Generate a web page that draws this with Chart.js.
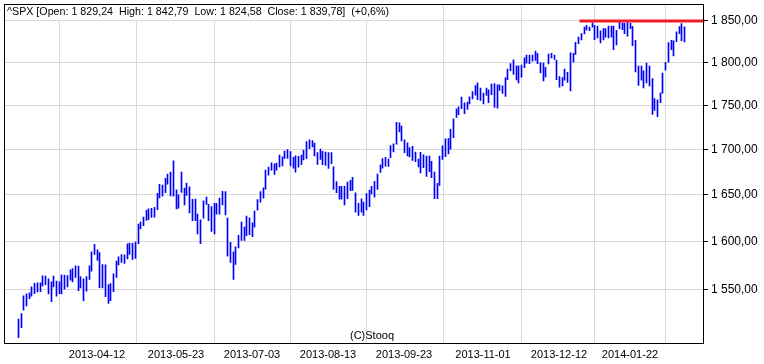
<!DOCTYPE html>
<html>
<head>
<meta charset="utf-8">
<script src="https://cdn.jsdelivr.net/npm/chart.js@4.4.0/dist/chart.umd.min.js"></script>
<style>
  html, body { margin: 0; padding: 0; background: #ffffff; }
  #grafico-wrap { width: 764px; height: 364px; }
</style>
</head>
<body>
<div id="grafico-wrap"><canvas id="grafico" width="764" height="364"></canvas></div>
<script>
// dados (^SPX diário, 2013-03-01 .. 2014-02-20, um valor por sessão)
const highs = [
  1520.0, 1525.6, 1543.4, 1545.5, 1546.5, 1552.6, 1556.4, 1556.8, 1556.8, 1564.0,
  1563.7, 1560.9, 1557.8, 1563.7, 1558.5, 1557.8, 1565.1, 1564.7, 1564.3, 1570.2,
  1571.6, 1574.4, 1574.1, 1563.3, 1560.9, 1563.3, 1574.4, 1588.9, 1596.9, 1591.0,
  1588.2, 1575.7, 1575.4, 1555.0, 1556.0, 1566.0, 1579.3, 1583.7, 1586.1, 1585.8,
  1597.2, 1598.2, 1597.9, 1599.3, 1618.3, 1620.4, 1625.7, 1633.1, 1634.5, 1635.2,
  1636.3, 1651.4, 1661.2, 1660.4, 1667.9, 1672.4, 1674.6, 1687.2, 1655.2, 1649.7,
  1674.6, 1657.0, 1662.6, 1658.6, 1644.8, 1645.1, 1628.9, 1622.9, 1643.3, 1647.2,
  1639.4, 1637.0, 1640.5, 1640.5, 1646.1, 1653.6, 1653.3, 1624.6, 1599.0, 1588.9,
  1594.1, 1606.3, 1620.4, 1615.0, 1626.7, 1625.0, 1619.7, 1632.3, 1644.7, 1653.3,
  1657.5, 1676.8, 1680.2, 1685.0, 1683.9, 1684.7, 1693.6, 1691.7, 1698.1, 1699.6,
  1697.3, 1691.0, 1692.8, 1692.1, 1693.6, 1699.2, 1708.7, 1710.6, 1709.8, 1706.9,
  1696.2, 1700.3, 1697.8, 1697.0, 1696.2, 1696.2, 1680.5, 1664.2, 1658.9, 1658.9,
  1658.9, 1663.8, 1665.6, 1669.0, 1651.9, 1640.5, 1645.5, 1641.9, 1651.1, 1654.8,
  1658.9, 1664.5, 1672.4, 1682.8, 1689.5, 1691.0, 1689.1, 1704.1, 1706.0, 1730.4,
  1730.0, 1726.2, 1710.6, 1707.2, 1701.8, 1703.4, 1697.0, 1689.1, 1696.6, 1693.9,
  1692.5, 1692.5, 1686.6, 1674.6, 1662.3, 1692.5, 1703.8, 1711.8, 1712.1, 1722.4,
  1734.6, 1746.0, 1748.3, 1759.5, 1752.9, 1753.7, 1759.9, 1766.0, 1772.9, 1776.0,
  1769.9, 1764.1, 1769.9, 1768.0, 1774.5, 1775.2, 1773.7, 1773.7, 1772.6, 1782.2,
  1792.2, 1798.8, 1803.1, 1796.1, 1796.1, 1796.9, 1805.5, 1808.8, 1808.8, 1808.8,
  1813.7, 1810.9, 1800.0, 1799.5, 1794.2, 1810.1, 1810.9, 1808.8, 1802.8, 1783.5,
  1782.2, 1792.2, 1788.4, 1811.6, 1810.9, 1824.2, 1830.6, 1834.6, 1842.7, 1844.8,
  1842.7, 1847.6, 1844.8, 1843.9, 1837.9, 1840.7, 1840.7, 1843.9, 1843.9, 1843.9,
  1838.7, 1850.8, 1847.5, 1847.0, 1849.3, 1847.0, 1843.6, 1826.6, 1795.7, 1795.7,
  1790.3, 1799.5, 1795.7, 1781.0, 1757.9, 1756.4, 1764.5, 1787.6, 1800.4, 1823.7,
  1826.6, 1825.8, 1836.7, 1843.1, 1846.7, 1842.8
];
const lows = [
  1501.5, 1511.4, 1529.0, 1533.4, 1540.7, 1543.1, 1545.8, 1547.5, 1547.8, 1553.6,
  1555.0, 1545.5, 1537.7, 1552.6, 1543.1, 1545.8, 1545.5, 1550.2, 1552.6, 1559.6,
  1557.8, 1562.3, 1548.8, 1551.6, 1538.7, 1548.2, 1560.2, 1568.9, 1586.1, 1579.9,
  1551.9, 1551.6, 1542.7, 1535.9, 1538.7, 1547.8, 1562.3, 1575.4, 1577.8, 1576.8,
  1581.6, 1586.1, 1580.9, 1582.0, 1597.5, 1613.0, 1616.5, 1622.2, 1622.9, 1625.4,
  1625.7, 1633.8, 1646.5, 1648.2, 1652.0, 1661.5, 1648.6, 1648.2, 1634.5, 1635.2,
  1652.3, 1638.9, 1649.0, 1630.3, 1621.8, 1621.8, 1607.7, 1597.5, 1624.6, 1639.3,
  1621.8, 1610.4, 1607.7, 1628.9, 1628.9, 1638.9, 1628.1, 1584.4, 1577.8, 1560.2,
  1575.7, 1593.1, 1601.0, 1601.0, 1606.0, 1607.0, 1605.0, 1615.0, 1633.1, 1641.9,
  1646.1, 1655.9, 1671.2, 1676.8, 1672.0, 1676.8, 1680.5, 1681.6, 1689.9, 1689.9,
  1681.6, 1679.1, 1674.6, 1680.2, 1682.8, 1688.0, 1689.9, 1700.7, 1702.6, 1692.5,
  1683.2, 1688.8, 1682.8, 1682.1, 1678.7, 1683.9, 1655.6, 1652.0, 1645.1, 1645.1,
  1638.9, 1645.5, 1654.2, 1654.5, 1631.0, 1627.5, 1631.0, 1627.5, 1633.4, 1637.0,
  1650.8, 1647.2, 1655.6, 1674.3, 1679.1, 1681.3, 1681.0, 1690.6, 1697.0, 1705.7,
  1719.7, 1709.5, 1696.2, 1692.5, 1691.4, 1687.7, 1686.1, 1680.5, 1673.8, 1679.4,
  1669.8, 1675.0, 1668.6, 1645.5, 1645.5, 1660.1, 1688.8, 1691.7, 1694.8, 1700.0,
  1713.2, 1736.1, 1739.2, 1746.0, 1740.3, 1745.2, 1751.5, 1757.5, 1761.8, 1756.4,
  1755.6, 1751.5, 1761.4, 1752.9, 1762.2, 1747.5, 1746.8, 1767.1, 1763.7, 1760.2,
  1779.9, 1790.3, 1786.1, 1779.5, 1776.0, 1782.7, 1793.8, 1799.2, 1798.8, 1801.6,
  1802.4, 1798.8, 1787.6, 1778.4, 1783.0, 1798.4, 1805.5, 1803.6, 1779.9, 1771.1,
  1772.6, 1779.2, 1776.7, 1766.7, 1800.4, 1809.7, 1822.5, 1827.0, 1834.3, 1839.1,
  1838.3, 1842.4, 1827.4, 1829.4, 1823.4, 1827.0, 1830.3, 1829.4, 1830.3, 1815.2,
  1820.9, 1840.7, 1839.5, 1834.6, 1831.5, 1840.7, 1820.1, 1788.8, 1773.0, 1779.2,
  1770.2, 1776.0, 1772.6, 1739.5, 1744.1, 1736.9, 1752.9, 1764.1, 1791.1, 1800.4,
  1815.2, 1808.0, 1824.9, 1834.6, 1826.1, 1824.6
];
// sessões marcadas no eixo X (índice da sessão) e os seus rótulos
const tickSessions = [1, 29, 58, 86, 114, 142, 171, 199, 225];
const tickLabels = ["", "2013-04-12", "2013-05-23", "2013-07-03", "2013-08-13", "2013-09-23", "2013-11-01", "2013-12-12", "2014-01-22"];
const priceTicks = [1550, 1600, 1650, 1700, 1750, 1800, 1850];
// linha de resistência desenhada à mão
const resistanceLevel = 1850;
const resistanceFrom = 206.2;
const titulo = "^SPX [Open: 1 829,24  High: 1 842,79  Low: 1 824,58  Close: 1 839,78]  (+0,6%)";
const rodape = "(C)Stooq";

// funções:
function formatarPreco(v) {
  const [inteiro, dec] = Number(v).toFixed(2).split(".");
  return inteiro.replace(/\B(?=(\d{3})+$)/g, " ") + "," + dec;
}

const FONTE = '"Liberation Sans", Arial, sans-serif';

// meio pixel de deslocamento para as barras de 1px ficarem nítidas
const nitidez = {
  id: "nitidez",
  beforeDatasetsDraw(chart) { chart.ctx.save(); chart.ctx.translate(0.5, 0); },
  afterDatasetsDraw(chart) { chart.ctx.restore(); },
};

const moldura = {
  id: "moldura",
  afterDraw(chart) {
    const { ctx, chartArea: a } = chart;
    ctx.save();
    // caixa do título
    ctx.font = "10.7px " + FONTE;
    const w = ctx.measureText(titulo).width;
    ctx.fillStyle = "#ffffff";
    ctx.fillRect(a.left + 1, a.top + 1, w + 5, 15);
    ctx.fillStyle = "#000000";
    ctx.textBaseline = "middle";
    ctx.textAlign = "left";
    ctx.fillText(titulo, a.left + 3, a.top + 8.5);
    // rodapé
    ctx.font = "11px " + FONTE;
    ctx.textAlign = "center";
    ctx.fillText(rodape, 372, a.bottom - 8);
    // moldura
    ctx.strokeStyle = "#000000";
    ctx.lineWidth = 1;
    ctx.strokeRect(a.left + 0.5, a.top + 0.5, a.right - a.left - 1, a.bottom - a.top - 1);
    ctx.restore();
  },
};

const barras = highs.map((h, i) => ({ x: i, y: [lows[i], h] }));

new Chart(document.getElementById("grafico"), {
  type: "bar",
  data: {
    datasets: [
      {
        type: "line",
        data: [{ x: resistanceFrom, y: resistanceLevel }, { x: 260, y: resistanceLevel }],
        borderColor: "#ee1c24",
        borderWidth: 3,
        pointRadius: 0,
        order: 0,
      },
      {
        data: barras,
        backgroundColor: "#0000ff",
        borderWidth: 0,
        barThickness: 1,
        order: 1,
      },
    ],
  },
  options: {
    responsive: false,
    animation: false,
    devicePixelRatio: 1,
    layout: { padding: { left: 4, top: 4, right: 0, bottom: 0 } },
    plugins: {
      legend: { display: false },
      tooltip: { enabled: false },
      title: { display: false },
    },
    scales: {
      x: {
        type: "linear",
        offset: false,
        alignToPixels: true,
        min: -5.1,
        max: 252.3,
        afterBuildTicks: (s) => { s.ticks = tickSessions.map((v) => ({ value: v })); },
        afterFit: (s) => { s.height = 20; s.paddingLeft = 0; s.paddingRight = 0; },
        ticks: {
          autoSkip: false,
          maxRotation: 0,
          padding: 4,
          color: "#000000",
          font: { family: FONTE, size: 11 },
          callback: (v, i) => tickLabels[i],
        },
        grid: { color: "#d9d9d9", drawTicks: false },
        border: { display: false },
      },
      y: {
        type: "logarithmic",
        position: "right",
        min: 1495.3,
        max: 1870.8,
        afterBuildTicks: (s) => { s.ticks = priceTicks.map((v) => ({ value: v })); },
        afterFit: (s) => { s.width = 60; s.paddingTop = 0; s.paddingBottom = 0; },
        ticks: {
          padding: 3,
          color: "#000000",
          font: { family: FONTE, size: 12 },
          callback: (v) => formatarPreco(v),
        },
        grid: { color: "#d9d9d9", tickColor: "#000000", tickLength: 4 },
        border: { display: false },
      },
    },
  },
  plugins: [nitidez, moldura],
});
</script>
</body>
</html>
